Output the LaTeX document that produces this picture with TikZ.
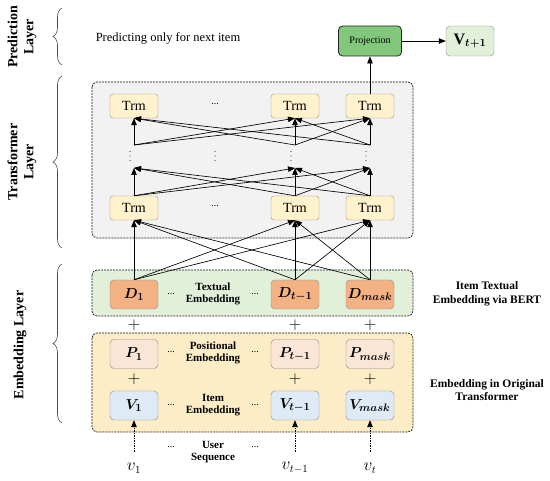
\documentclass[tikz,border=0pt]{standalone}
\usepackage{fontspec}
\usepackage{amsmath,bm}
\setmainfont{Liberation Serif}
\usetikzlibrary{arrows.meta,decorations.pathreplacing}
\definecolor{trmfill}{HTML}{FFF2CC}
\definecolor{trmdraw}{HTML}{9A9278}
\definecolor{projfill}{HTML}{82C77B}
\definecolor{voutfill}{HTML}{E2F0D9}
\definecolor{grayfill}{HTML}{F2F2F2}
\definecolor{txtfill}{HTML}{E2F0D9}
\definecolor{dfill}{HTML}{F4B183}
\definecolor{origfill}{HTML}{FCEDC6}
\definecolor{pfill}{HTML}{FBE5D6}
\definecolor{vfill}{HTML}{DEEBF7}
\definecolor{boxdraw}{HTML}{8A8A8A}
\tikzset{
  trm/.style={rectangle,rounded corners=3pt,draw=trmdraw,fill=trmfill,minimum width=48pt,minimum height=24pt,inner sep=0pt,font=\fontsize{14}{14}\selectfont},
  emb/.style={rectangle,rounded corners=4pt,draw=boxdraw,minimum width=48pt,minimum height=29pt,inner sep=0pt,font=\fontsize{15.5}{15.5}\selectfont},
  group/.style={rounded corners=5pt,draw=black!90,dash pattern=on 2pt off 1pt,line width=0.7pt},
  arr/.style={-{Triangle[length=7pt,width=5.5pt]},line width=0.65pt,black},
  darr/.style={-{Triangle[length=7pt,width=5.5pt]},line width=0.65pt,dash pattern=on 1.5pt off 1pt,black},
  lbl/.style={font=\bfseries\fontsize{11}{12.5}\selectfont,align=center},
  rlbl/.style={font=\bfseries\fontsize{11.5}{13.5}\selectfont,align=center},
  layer/.style={font=\bfseries\fontsize{14}{16}\selectfont,align=center,rotate=90},
  dots/.style={font=\fontsize{10}{10}\selectfont},
  brc/.style={decorate,decoration={brace,amplitude=9pt},line width=0.6pt,black!70},
}
\begin{document}
\begin{tikzpicture}[x=1pt,y=-1pt]
\useasboundingbox (0,0) rectangle (550,481);
% braces and layer labels
\draw[brc] (62,65) -- (62,8);
\draw[brc] (62,248) -- (62,76);
\draw[brc] (62,423) -- (62,264);
\node[layer] (lp) at (22,37) {Prediction\\Layer};
\node[layer] (lt) at (22,162) {Transformer\\Layer};
\node[layer] (le) at (20,345) {Embedding Layer};
\node[font=\fontsize{12.5}{14}\selectfont] (pred) at (168,38) {Predicting only for next item};
% group boxes
\draw[group,fill=grayfill] (92,82) rectangle (413,238);
\draw[group,fill=txtfill] (92,270) rectangle (413,316);
\draw[group,fill=origfill] (92,333) rectangle (413,432);
% projection
\node[rectangle,rounded corners=4pt,draw=black!85,line width=0.8pt,fill=projfill,minimum width=63pt,minimum height=30pt,font=\fontsize{10}{10}\selectfont] (proj) at (370,41) {Projection};
\node[rectangle,rounded corners=4pt,draw=boxdraw,fill=voutfill,minimum width=48pt,minimum height=30pt,font=\fontsize{16}{16}\selectfont] (vout) at (470,41) {$\mathbf{V}_{\bm{t+1}}$};
\draw[arr] (proj) -- (vout);
% transformer
\node[trm] (tt1) at (134,106) {Trm};
\node[trm] (tt2) at (295,106) {Trm};
\node[trm] (tt3) at (370,106) {Trm};
\node[trm] (tb1) at (134,208) {Trm};
\node[trm] (tb2) at (295,208) {Trm};
\node[trm] (tb3) at (370,208) {Trm};
\node[dots] (dt) at (215,104) {...};
\node[dots] (db) at (215,206) {...};
\coordinate (mt1) at (134,168); \coordinate (mt2) at (295,168); \coordinate (mt3) at (370,168);
\coordinate (ms1) at (134,145); \coordinate (ms2) at (295,145); \coordinate (ms3) at (370,145);
\foreach \x in {130,215,291,366}{
  \foreach \y in {151.5,156,160.5}{ \fill[black!75] (\x,\y) circle (0.55pt); }
}
\foreach \i in {1,2,3}{
  \foreach \j in {1,2,3}{
    \draw[arr] (tb\i.north) -- (mt\j);
    \draw[arr] (ms\i) -- (tt\j.south);
  }
}
\draw[arr] (tt3) -- (proj);
% embeddings
\node[emb,fill=dfill] (d1) at (134,294.5) {$\bm{D}_{\bm{1}}$};
\node[emb,fill=dfill] (d2) at (295,294.5) {$\bm{D}_{\bm{t-1}}$};
\node[emb,fill=dfill] (d3) at (370,294.5) {$\bm{D}_{\bm{mask}}$};
\node[emb,fill=pfill] (p1) at (134,354) {$\bm{P}_{\bm{1}}$};
\node[emb,fill=pfill] (p2) at (295,354) {$\bm{P}_{\bm{t-1}}$};
\node[emb,fill=pfill] (p3) at (370,354) {$\bm{P}_{\bm{mask}}$};
\node[emb,fill=vfill] (v1) at (134,405.5) {$\bm{V}_{\bm{1}}$};
\node[emb,fill=vfill] (v2) at (295,405.5) {$\bm{V}_{\bm{t-1}}$};
\node[emb,fill=vfill] (v3) at (370,405.5) {$\bm{V}_{\bm{mask}}$};
\foreach \i in {1,2,3}{
  \foreach \j in {1,2,3}{
    \draw[arr] (d\i.north) -- (tb\j.south);
  }
}
\foreach \x/\n in {134/1,295/2,370/3}{
  \node[font=\fontsize{18}{18}\selectfont] (pa\n) at (\x,325) {$+$};
  \node[font=\fontsize{18}{18}\selectfont] (pb\n) at (\x,379) {$+$};
}
\node[lbl] (te) at (213,294) {Textual\\Embedding};
\node[lbl] (pe) at (213,353) {Positional\\Embedding};
\node[lbl] (ie) at (213,405) {Item\\Embedding};
\node[lbl] (us) at (213,452) {User\\Sequence};
\foreach \y/\n in {294/a,352/b,405/c,447/d}{
  \node[dots] (dl\n) at (171,\y) {...};
  \node[dots] (dr\n) at (255,\y) {...};
}
% sequence
\node[font=\fontsize{16}{16}\selectfont] (s1) at (134,468) {$v_1$};
\node[font=\fontsize{16}{16}\selectfont] (s2) at (295,468) {$v_{t-1}$};
\node[font=\fontsize{16}{16}\selectfont] (s3) at (370,468) {$v_t$};
\coordinate (q1) at (134,452); \coordinate (q2) at (295,452); \coordinate (q3) at (370,452);
\foreach \i in {1,2,3}{ \draw[darr] (q\i) -- (v\i.south); }
% right labels
\node[rlbl] (rb) at (487,294) {Item Textual\\Embedding via BERT};
\node[rlbl] (ro) at (487,390) {Embedding in Original\\Transformer};
\end{tikzpicture}
\end{document}
